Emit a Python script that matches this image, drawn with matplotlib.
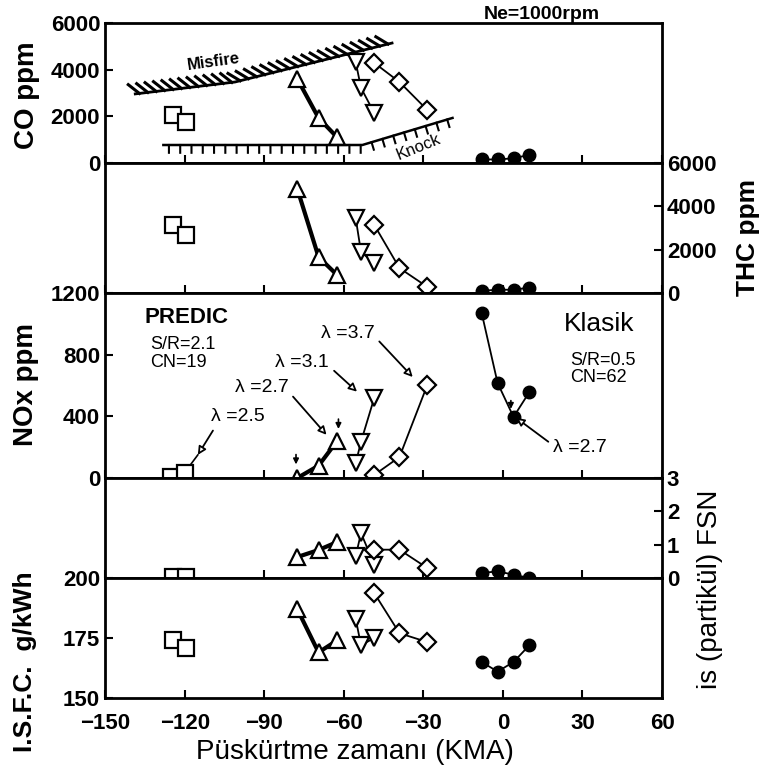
import matplotlib.pyplot as plt
import matplotlib.patheffects as pe

plt.rcParams['font.family'] = ['Liberation Sans', 'DejaVu Sans']

# injection timing (KMA) for each series
sq_x = [-124.5, -119.5]          # PREDIC lambda=2.5
up_x = [-77.5, -69.5, -62.5]     # PREDIC lambda=2.7
dn_x = [-55.5, -53.5, -48.5]     # PREDIC lambda=3.1
dm_x = [-48.5, -39.0, -28.5]     # PREDIC lambda=3.7
kl_x = [-8, -2, 4, 10]           # Klasik lambda=2.7

# CO ppm
sq_co = [2060, 1760]
up_co = [3600, 1930, 1100]
dn_co = [4330, 3220, 2140]
dm_co = [4290, 3470, 2270]
kl_co = [150, 150, 200, 350]

# THC ppm
sq_thc = [3140, 2680]
up_thc = [4800, 1660, 830]
dn_thc = [3460, 1890, 1380]
dm_thc = [3140, 1150, 280]
kl_thc = [100, 150, 150, 250]

# NOx ppm
sq_nox_x = [-125, -120, -115]
sq_nox = [5, 35, 150]
up_nox = [0, 80, 240]
dn_nox = [95, 235, 520]
dm_nox = [20, 136, 603]
kl_nox = [1070, 616, 396, 558]

# smoke FSN
sq_fsn = [0.02, 0.02]
up_fsn = [0.63, 0.84, 1.08]
dn_fsn = [0.65, 1.35, 0.4]
dm_fsn = [0.85, 0.85, 0.3]
kl_fsn = [0.15, 0.2, 0.1, 0.0]

# ISFC g/kWh
sq_isfc = [174.2, 170.8]
up_isfc = [187, 169, 174]
dn_isfc = [183, 172, 175]
dm_isfc = [193.7, 177, 173.3]
kl_isfc = [165, 161, 165, 172]

# operating limits in the CO panel
misfire_x = [-138.6, -101, -41.8]
misfire_co = [2960, 3470, 5140]
knock_x = [-128, -53, -19]
knock_co = [770, 770, 1930]

fig = plt.figure(figsize=(7.61, 7.79), dpi=100)

left, width = 0.138, 0.732
bounds = [0.9705, 0.7908, 0.6239, 0.3864, 0.2580, 0.1040]
axes = []
for i in range(5):
    ax = fig.add_axes([left, bounds[i + 1], width, bounds[i] - bounds[i + 1]],
                      sharex=axes[0] if axes else None)
    for s in ax.spines.values():
        s.set_linewidth(2)
    ax.tick_params(direction='in', length=6, width=1.5, labelsize=16)
    ax.tick_params(axis='x', top=False)
    axes.append(ax)
ax_co, ax_thc, ax_nox, ax_fsn, ax_isfc = axes

ax_co.set_xlim(-150, 60)
ax_co.set_xticks([-150, -120, -90, -60, -30, 0, 30, 60])
for ax in axes[:-1]:
    ax.tick_params(axis='x', labelbottom=False)
ax_isfc.tick_params(axis='x', pad=11)

mk = dict(color='black', mfc='white', mec='black', mew=1.6)


def draw(ax, ys):
    sq, up, dn, dm, kl = ys
    ax.plot(sq_x, sq, marker='s', ms=12, lw=1.2, **mk)
    ax.plot(up_x, up, marker='^', ms=11, lw=3, **mk)
    ax.plot(dn_x, dn, marker='v', ms=11, lw=1.3, **mk)
    ax.plot(dm_x, dm, marker='D', ms=9, lw=1.3, **mk)
    ax.plot(kl_x, kl, marker='o', ms=9, lw=1.3, color='black')


draw(ax_co, [sq_co, up_co, dn_co, dm_co, kl_co])
draw(ax_thc, [sq_thc, up_thc, dn_thc, dm_thc, kl_thc])
draw(ax_fsn, [sq_fsn, up_fsn, dn_fsn, dm_fsn, kl_fsn])
draw(ax_isfc, [sq_isfc, up_isfc, dn_isfc, dm_isfc, kl_isfc])

# NOx panel: squares continue to the lambda=2.5 point
ax_nox.plot(sq_nox_x, sq_nox, marker='s', ms=12, lw=1.2, markevery=[0, 1], **mk)
ax_nox.plot(up_x, up_nox, marker='^', ms=11, lw=3, **mk)
ax_nox.plot(dn_x, dn_nox, marker='v', ms=11, lw=1.3, **mk)
ax_nox.plot(dm_x, dm_nox, marker='D', ms=9, lw=1.3, **mk)
ax_nox.plot(kl_x, kl_nox, marker='o', ms=9, lw=1.3, color='black')

# misfire and knock limits
ax_co.plot(misfire_x, misfire_co, color='black', lw=2,
           path_effects=[pe.withTickedStroke(angle=135, spacing=6, length=1.7, linewidth=2.2)])
ax_co.plot(knock_x, knock_co, color='black', lw=1.8,
           path_effects=[pe.withTickedStroke(angle=-90, spacing=8, length=0.7, linewidth=1.5)])
ax_co.text(-109, 4330, 'Misfire', fontsize=12, fontweight='bold', rotation=8,
           ha='center', va='center')
ax_co.text(-32, 700, 'Knock', fontsize=12, rotation=22, ha='center', va='center')

# y axes
ax_co.set_ylim(0, 6000)
ax_co.set_yticks([0, 2000, 4000, 6000])
ax_thc.set_ylim(0, 6000)
ax_thc.set_yticks([0, 2000, 4000, 6000])
ax_thc.yaxis.tick_right()
ax_nox.set_ylim(0, 1200)
ax_nox.set_yticks([0, 400, 800, 1200])
ax_fsn.set_ylim(0, 3)
ax_fsn.set_yticks([0, 1, 2, 3])
ax_fsn.yaxis.tick_right()
ax_isfc.set_ylim(150, 200)
ax_isfc.set_yticks([150, 175, 200])

for ax in axes:
    ax.tick_params(axis='y', right=(ax in (ax_thc, ax_fsn)), left=(ax not in (ax_thc, ax_fsn)))
    for lab in ax.get_yticklabels() + ax.get_xticklabels():
        lab.set_fontweight('bold')

# annotations in NOx panel
arr = dict(arrowstyle='-|>', fc='white', ec='black', lw=1.3, mutation_scale=12, shrinkB=0)
ax_nox.annotate('λ =2.5', xy=(-115, 150), xytext=(-100, 396), fontsize=14,
                ha='center', va='center', arrowprops=dict(arr, relpos=(0.1, 0.0)))
ax_nox.annotate('λ =2.7', xy=(-66.5, 280), xytext=(-91, 584), fontsize=14,
                ha='center', va='center', arrowprops=dict(arr, relpos=(1.0, 0.3)))
ax_nox.annotate('λ =3.1', xy=(-55, 560), xytext=(-75.6, 746), fontsize=14,
                ha='center', va='center', arrowprops=dict(arr, relpos=(1.0, 0.3)))
ax_nox.annotate('λ =3.7', xy=(-34, 655), xytext=(-58.5, 940), fontsize=14,
                ha='center', va='center', arrowprops=dict(arr, relpos=(1.0, 0.3)))
ax_nox.annotate('λ =2.7', xy=(5, 390), xytext=(19, 200), fontsize=14,
                ha='left', va='center', arrowprops=dict(arr, relpos=(0.0, 0.6)))

small = dict(arrowstyle='-|>', fc='black', ec='black', lw=1.2, mutation_scale=8)
ax_nox.annotate('', xy=(-78, 70), xytext=(-78, 170), arrowprops=small)
ax_nox.annotate('', xy=(-62, 300), xytext=(-62, 400), arrowprops=small)
ax_nox.annotate('', xy=(3, 430), xytext=(3, 520), arrowprops=small)

ax_nox.text(-135, 1038, 'PREDIC', fontsize=16, fontweight='bold', va='center')
ax_nox.text(-133, 863, 'S/R=2.1', fontsize=13, va='center')
ax_nox.text(-133, 752, 'CN=19', fontsize=13, va='center')
ax_nox.text(23, 1000, 'Klasik', fontsize=19, va='center')
ax_nox.text(25.4, 765, 'S/R=0.5', fontsize=13, va='center')
ax_nox.text(25.4, 649, 'CN=62', fontsize=13, va='center')

# axis labels
fig.text(0.035, 0.878, 'CO ppm', rotation=90, fontsize=20, fontweight='bold', ha='center', va='center')
fig.text(0.983, 0.695, 'THC ppm', rotation=90, fontsize=19, fontweight='bold', ha='center', va='center')
fig.text(0.034, 0.506, 'NOx ppm', rotation=90, fontsize=20, fontweight='bold', ha='center', va='center')
fig.text(0.933, 0.243, 'is (partikül) FSN', rotation=90, fontsize=20, ha='center', va='center')
fig.text(0.033, 0.150, 'I.S.F.C.  g/kWh', rotation=90, fontsize=19, fontweight='bold', ha='center', va='center')
fig.text(0.466, 0.035, 'Püskürtme zamanı (KMA)', fontsize=20, ha='center', va='center')
fig.text(0.712, 0.981, 'Ne=1000rpm', fontsize=14, fontweight='bold', ha='center', va='center')

fig.savefig('out.png', dpi=100)
